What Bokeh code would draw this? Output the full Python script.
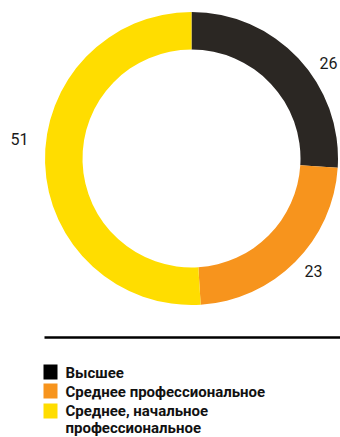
import numpy as np
from bokeh.plotting import figure
from bokeh.models import ColumnDataSource, Range1d
from bokeh.core.properties import value
from bokeh.embed import file_html
from bokeh.resources import INLINE

# Data
categories = ["Высшее", "Среднее профессиональное", "Среднее, начальное профессиональное"]
values = [26, 23, 51]
value_labels = ["26", "23", "51"]
slice_colors = ["#2b2723", "#f7941d", "#ffdd00"]
legend_colors = ["#000000", "#f7941d", "#ffdd00"]
legend_lines = ["Высшее", "Среднее профессиональное", "Среднее, начальное", "профессиональное"]

W, H = 340, 437
p = figure(width=W, height=H, output_backend="svg", toolbar_location=None,
           x_range=Range1d(0, W), y_range=Range1d(H, 0), min_border=0)
p.axis.visible = False
p.grid.visible = False
p.outline_line_color = None
p.background_fill_color = "white"
p.border_fill_color = "white"

cx, cy, r_out, r_in = 191, 158, 146.5, 109
vals = np.array(values, dtype=float)
frac = vals / vals.sum()
cum = np.concatenate([[0], np.cumsum(frac)])
# start at top, go clockwise
start = np.pi / 2 - 2 * np.pi * cum[:-1]
end = np.pi / 2 - 2 * np.pi * cum[1:]
src = ColumnDataSource(dict(start=start, end=end, color=slice_colors))
p.annular_wedge(x=cx, y=cy, inner_radius=r_in, outer_radius=r_out,
                start_angle="start", end_angle="end", direction="clock",
                color="color", line_color=None, source=src)

# value labels
label_x = [319, 304, 10]
label_y = [62, 270, 138]
p.text(x=label_x, y=label_y, text=value_labels, text_font=value("Roboto"),
       text_font_size="16px", text_color="#1a1a1a", text_baseline="middle",
       text_align="left")

# horizontal rule
p.segment(x0=[44], y0=[337], x1=[340], y1=[337], line_color="black", line_width=2.5)

# legend
sq_y = [371.5, 390.5, 410.5]
p.rect(x=[50] * 3, y=sq_y, width=14, height=15, fill_color=legend_colors, line_color=None)
text_y = [372, 391, 410.5, 427.5]
p.text(x=[65] * 4, y=text_y, text=legend_lines, text_font=value("Roboto"),
       text_font_style="bold", text_font_size="15px", text_color="#111111",
       text_baseline="middle", text_align="left")

open("out.html", "w").write(file_html(p, INLINE))
